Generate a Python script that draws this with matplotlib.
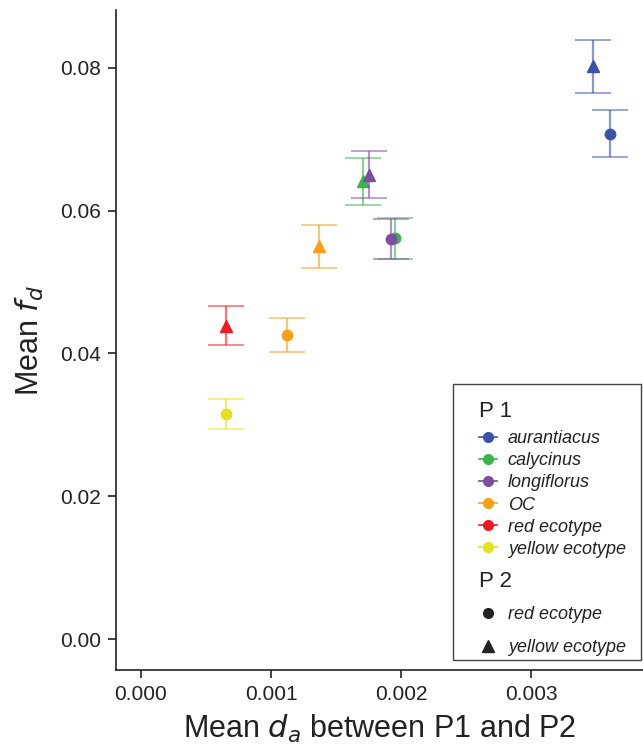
import matplotlib
matplotlib.use("Agg")
import matplotlib.pyplot as plt
from matplotlib.lines import Line2D
from matplotlib.patches import Rectangle

plt.rcParams['font.family'] = ['Liberation Sans', 'DejaVu Sans']

# P1 groups and colours
p1_names = ['aurantiacus', 'calycinus', 'longiflorus', 'OC', 'red ecotype', 'yellow ecotype']
p1_colors = ['#3a53a4', '#3cb44b', '#7d4e9f', '#f7a11a', '#ed1c24', '#e5e022']

# P2 = red ecotype (circles)
circ_p1 = ['aurantiacus', 'calycinus', 'longiflorus', 'OC', 'yellow ecotype']
circ_da = [0.003608, 0.001954, 0.001923, 0.001123, 0.000654]
circ_fd = [0.0708, 0.0561, 0.0560, 0.0426, 0.0315]
circ_err = [0.0033, 0.0029, 0.0028, 0.0024, 0.0021]

# P2 = yellow ecotype (triangles)
tri_p1 = ['aurantiacus', 'calycinus', 'longiflorus', 'OC', 'red ecotype']
tri_da = [0.003477, 0.001708, 0.001754, 0.001369, 0.000654]
tri_fd = [0.0802, 0.0641, 0.0650, 0.0550, 0.0439]
tri_err = [0.0037, 0.0033, 0.0033, 0.0030, 0.0027]

col = dict(zip(p1_names, p1_colors))

fig = plt.figure(figsize=(6.43, 7.52), dpi=100)
ax = fig.add_axes([116/643, 1 - 670/752, 1 - 116/643, 660/752])

for names, xs, ys, es, mk, ms in [(circ_p1, circ_da, circ_fd, circ_err, 'o', 7.5),
                                  (tri_p1, tri_da, tri_fd, tri_err, '^', 8.5)]:
    for n, x, y, e in zip(names, xs, ys, es):
        c = col[n]
        ax.errorbar(x, y, yerr=e, fmt='none', ecolor=c, alpha=0.6,
                    elinewidth=1.6, capsize=13, capthick=1.2)
        ax.plot(x, y, marker=mk, color=c, markersize=ms, linestyle='none')

ax.set_xlim(-0.000192, 0.00386)
ax.set_ylim(-0.00434, 0.0881)
ax.set_xticks([0.000, 0.001, 0.002, 0.003])
ax.set_xticklabels(['0.000', '0.001', '0.002', '0.003'])
ax.set_yticks([0.00, 0.02, 0.04, 0.06, 0.08])
ax.set_yticklabels(['0.00', '0.02', '0.04', '0.06', '0.08'])
ax.tick_params(labelsize=15, length=6, width=1.2, color='#222222',
               labelcolor='#222222', direction='out', pad=5)
for s in ['top', 'right']:
    ax.spines[s].set_visible(False)
for s in ['left', 'bottom']:
    ax.spines[s].set_linewidth(1.2)
    ax.spines[s].set_color('#222222')

ax.set_xlabel('Mean $d_a$ between P1 and P2', fontsize=22, color='#222222', labelpad=6)
ax.set_ylabel('Mean $f_d$', fontsize=22, color='#222222', labelpad=10)

# legend
h1 = [Line2D([], [], marker='o', color=c, markersize=7, linewidth=1.2) for c in p1_colors]
leg1 = fig.legend(h1, p1_names, loc='upper left', bbox_to_anchor=(479/643, 1 - 401/752),
                  frameon=False, title='P 1', alignment='left',
                  prop={'style': 'italic', 'size': 13}, title_fontsize=16,
                  handlelength=1.0, handletextpad=0.6, labelspacing=0.28,
                  borderaxespad=0, borderpad=0)
leg1._legend_box.sep = 6
h2 = [Line2D([], [], marker='o', color='#222222', markersize=7, linestyle='none'),
      Line2D([], [], marker='^', color='#222222', markersize=8, linestyle='none')]
leg2 = fig.legend(h2, ['red ecotype', 'yellow ecotype'], loc='upper left',
                  bbox_to_anchor=(479/643, 1 - 571/752),
                  frameon=False, title='P 2', alignment='left',
                  prop={'style': 'italic', 'size': 13}, title_fontsize=16,
                  handlelength=1.0, handletextpad=0.6, labelspacing=0.9,
                  borderaxespad=0, borderpad=0)
leg2._legend_box.sep = 10
for lg in (leg1, leg2):
    lg.get_title().set_color('#222222')
    for t in lg.get_texts():
        t.set_color('#222222')

fig.patches.append(Rectangle((453/643, 1 - 660/752), 188/643, 276/752,
                             transform=fig.transFigure, fill=False,
                             edgecolor='#444444', linewidth=1.0))

fig.savefig('out.png', dpi=100)
